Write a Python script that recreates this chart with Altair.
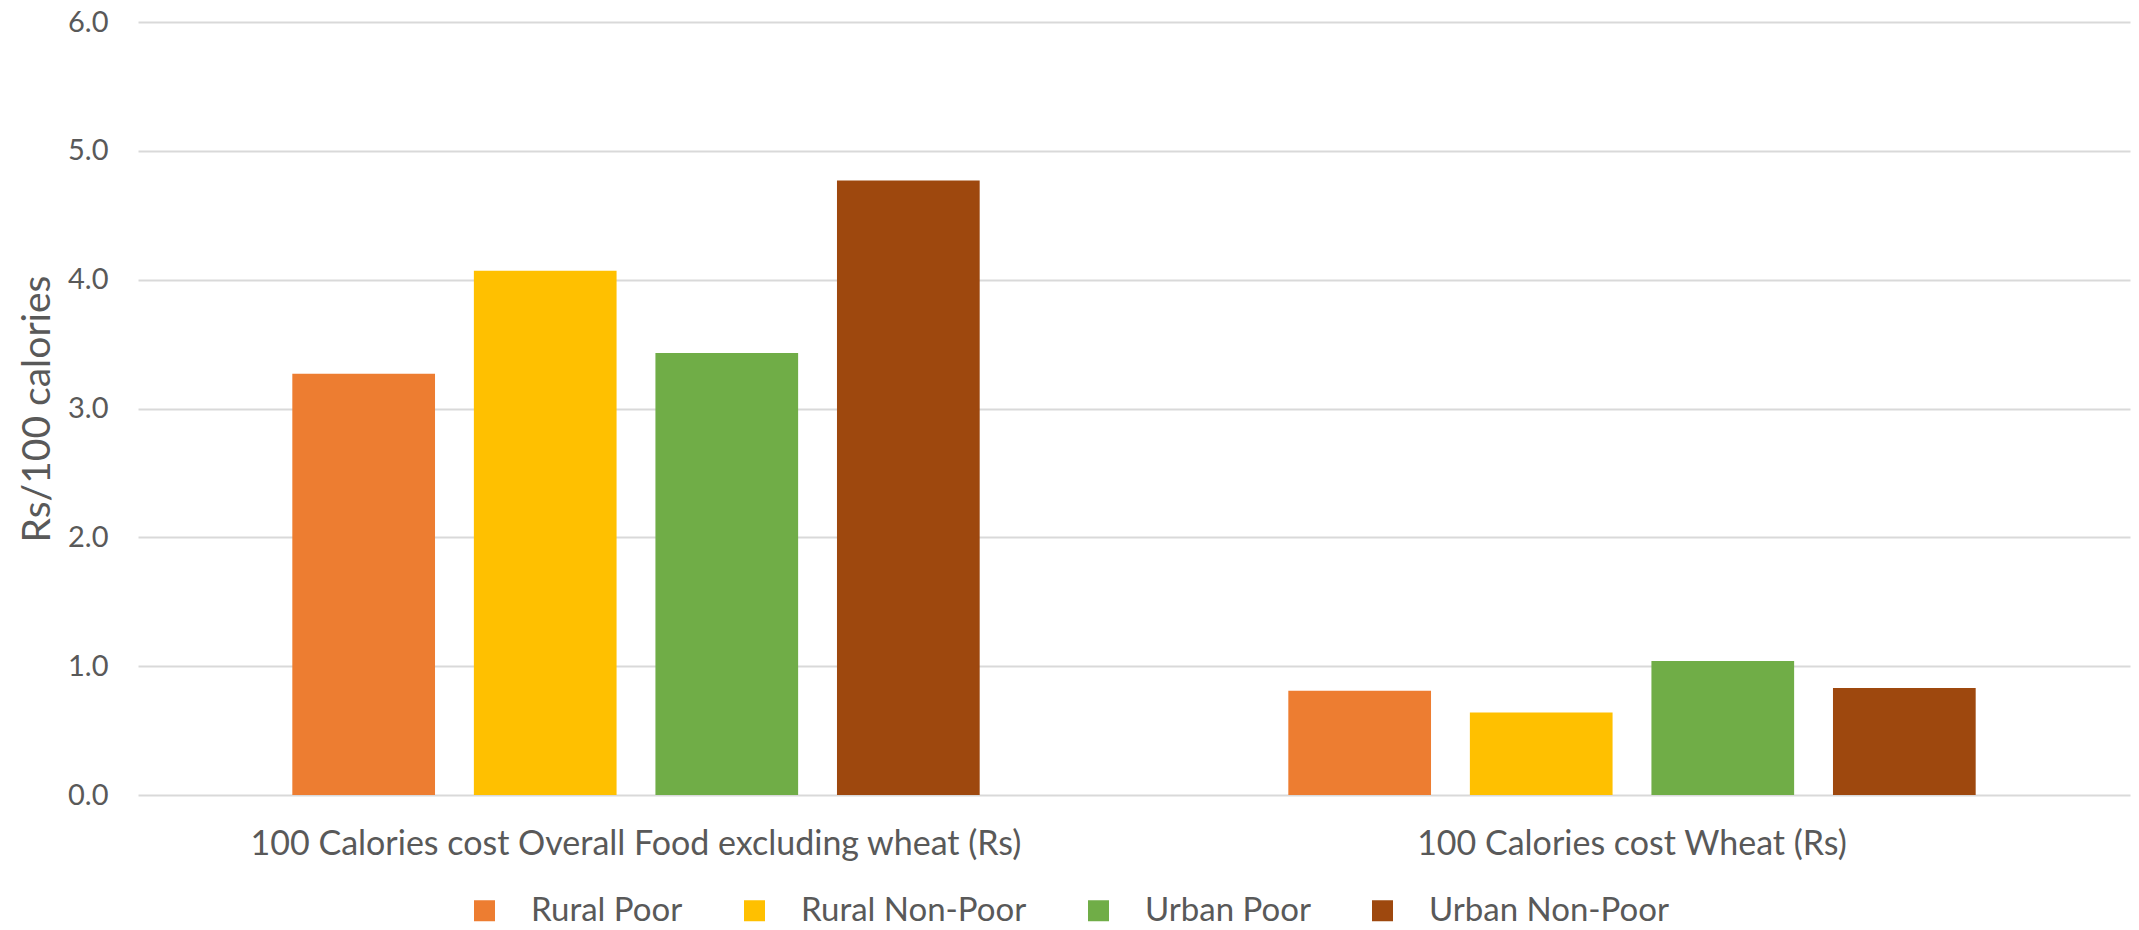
import altair as alt
import pandas as pd

categories = ["100 Calories cost Overall Food excluding wheat (Rs)", "100 Calories cost Wheat (Rs)"]
groups = ["Rural Poor", "Rural Non-Poor", "Urban Poor", "Urban Non-Poor"]
overall_food = [3.27, 4.07, 3.43, 4.77]
wheat = [0.81, 0.64, 1.04, 0.83]
colors = ["#ED7D31", "#FFC000", "#70AD47", "#9E480E"]

rows = []
for g, v in zip(groups, overall_food):
    rows.append({"category": categories[0], "group": g, "value": v})
for g, v in zip(groups, wheat):
    rows.append({"category": categories[1], "group": g, "value": v})
df = pd.DataFrame(rows)

FONT = "Lato"
TXT = "#595959"

chart = alt.Chart(df).mark_bar().encode(
    x=alt.X("category:N", sort=categories,
            scale=alt.Scale(paddingInner=0, paddingOuter=0),
            axis=alt.Axis(title=None, labelAngle=0, labelFontSize=34, labelFont=FONT,
                          labelColor=TXT, labelPadding=32, ticks=False, domain=False,
                          labelLimit=1200)),
    xOffset=alt.XOffset("group:N", sort=groups,
                        scale=alt.Scale(paddingInner=0.214, paddingOuter=0.85)),
    y=alt.Y("value:Q", scale=alt.Scale(domain=[0, 6], nice=False),
            axis=alt.Axis(title="Rs/100 calories", values=[0, 1, 2, 3, 4, 5, 6], format=".1f",
                          labelFontSize=29, labelFont=FONT, labelColor=TXT, labelPadding=30,
                          ticks=False, domain=False, gridColor="#D9D9D9", gridWidth=2,
                          titleFont=FONT, titleFontSize=39, titleFontWeight="normal",
                          titleColor=TXT, titlePadding=10)),
    color=alt.Color("group:N", sort=groups,
                    scale=alt.Scale(domain=groups, range=colors),
                    legend=alt.Legend(title=None, orient="none", direction="horizontal",
                                      legendX=330, legendY=872, padding=0,
                                      symbolType="square", symbolSize=441,
                                      symbolStrokeWidth=0,
                                      labelFont=FONT, labelFontSize=33, labelColor=TXT,
                                      labelOffset=30, columnPadding=55, labelLimit=400)),
).properties(
    width=1992, height=773,
    autosize=alt.AutoSizeParams(type="none"),
    padding={"left": 130, "top": 14, "right": 1, "bottom": 127},
).configure_view(stroke=None)

chart.save("out.html", embed_options={"renderer": "svg", "actions": False})
